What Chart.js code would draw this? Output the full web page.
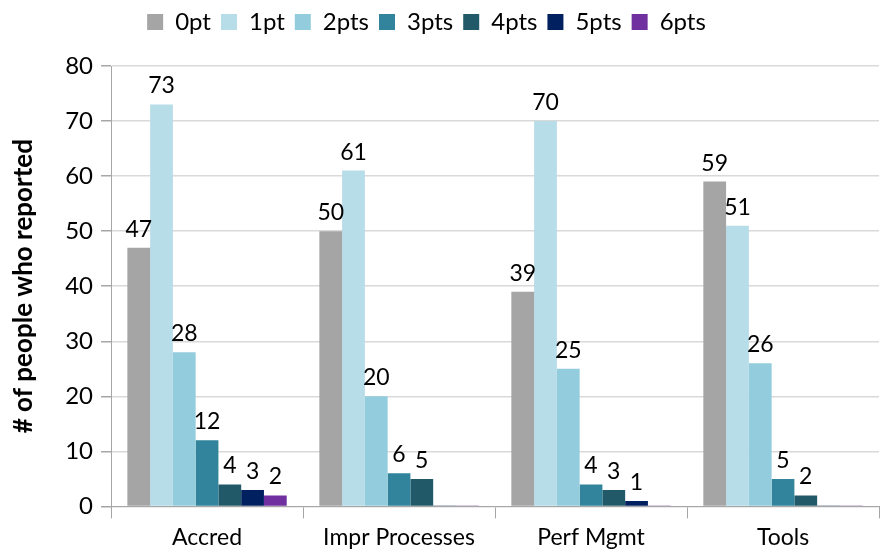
<!DOCTYPE html>
<html>
<head>
<meta charset="utf-8">
<script src="https://cdn.jsdelivr.net/npm/chart.js@4"></script>
<style>
  html, body { margin: 0; padding: 0; background: #fff; }
  #wrap { width: 893px; height: 558px; }
</style>
</head>
<body>
<div id="wrap"><canvas id="chart"></canvas></div>
<script>
const categories = ['Accred', 'Impr Processes', 'Perf Mgmt', 'Tools'];
const seriesNames = ['0pt', '1pt', '2pts', '3pts', '4pts', '5pts', '6pts'];
const pts0 = [47, 50, 39, 59];
const pts1 = [73, 61, 70, 51];
const pts2 = [28, 20, 25, 26];
const pts3 = [12, 6, 4, 5];
const pts4 = [4, 5, 3, 2];
const pts5 = [3, 0, 1, 0];
const pts6 = [2, 0, 0, 0];
const seriesColors = ['#a5a5a5', '#b7dde8', '#93cddd', '#31849b', '#215968', '#002060', '#7030a0'];

const seriesValues = [pts0, pts1, pts2, pts3, pts4, pts5, pts6];
const FONT = 'Lato, Carlito, sans-serif';

// draw value above each bar, skip zeros
const valueLabels = {
    id: 'valueLabels',
    afterDatasetsDraw(chart) {
        const ctx = chart.ctx;
        ctx.save();
        ctx.font = '23px ' + FONT;
        ctx.fillStyle = '#000';
        ctx.textAlign = 'center';
        ctx.textBaseline = 'bottom';
        chart.data.datasets.forEach((ds, i) => {
            const meta = chart.getDatasetMeta(i);
            meta.data.forEach((bar, j) => {
                const v = ds.data[j];
                if (!v) return;
                ctx.fillText(String(v), bar.x, bar.y - 7);
            });
        });
        ctx.restore();
    }
};

// extra room under the legend, and nudge it a bit left
const legendGap = {
    id: 'legendGap',
    beforeInit(chart) {
        const fit = chart.legend.fit;
        chart.legend.fit = function () {
            fit.bind(chart.legend)();
            this.height += 22;
        };
    },
    afterLayout(chart) {
        chart.legend.left -= 17;
        chart.legend.right -= 17;
    }
};

new Chart(document.getElementById('chart'), {
    type: 'bar',
    data: {
        labels: categories,
        datasets: seriesNames.map((name, i) => ({
            label: name,
            data: seriesValues[i],
            backgroundColor: seriesColors[i],
            borderWidth: 0,
            minBarLength: 1,
            categoryPercentage: 0.83,
            barPercentage: 1.0
        }))
    },
    options: {
        responsive: true,
        maintainAspectRatio: false,
        animation: false,
        layout: { padding: { left: 8, right: 14, top: 0, bottom: 2 } },
        plugins: {
            legend: {
                position: 'top',
                labels: {
                    font: { family: FONT, size: 24 },
                    color: '#000',
                    boxWidth: 16,
                    boxHeight: 16,
                    padding: 10
                }
            },
            tooltip: { enabled: false }
        },
        scales: {
            x: {
                grid: {
                    display: true,
                    drawOnChartArea: false,
                    offset: true,
                    tickLength: 12,
                    tickColor: '#a6a6a6'
                },
                border: { color: '#a6a6a6' },
                ticks: {
                    font: { family: FONT, size: 23 },
                    color: '#000',
                    padding: 5
                }
            },
            y: {
                min: 0,
                max: 80,
                ticks: {
                    stepSize: 10,
                    font: { family: FONT, size: 24 },
                    color: '#000',
                    padding: 8
                },
                grid: {
                    color: '#d9d9d9',
                    lineWidth: 1.5,
                    tickLength: 10,
                    tickColor: '#a6a6a6'
                },
                border: { color: '#a6a6a6' },
                title: {
                    display: true,
                    text: '# of people who reported',
                    font: { family: FONT, size: 26, weight: 'bold' },
                    color: '#000',
                    padding: { top: 0, bottom: 18 }
                }
            }
        }
    },
    plugins: [valueLabels, legendGap]
});
</script>
</body>
</html>
